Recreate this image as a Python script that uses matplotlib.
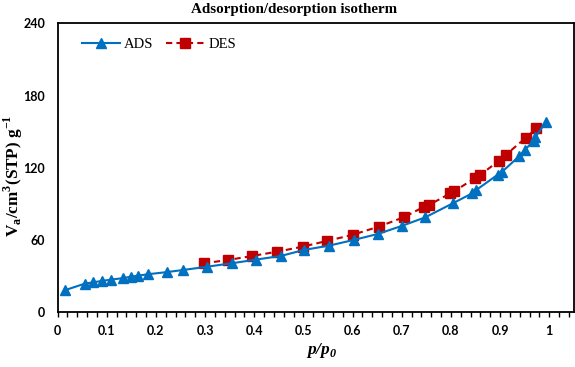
import matplotlib
matplotlib.use('Agg')
import matplotlib.pyplot as plt
from matplotlib.ticker import MultipleLocator

# adsorption branch (p/p0, V_a)
ads_x = [0.016, 0.055, 0.073, 0.090, 0.109, 0.134, 0.150, 0.164, 0.184, 0.223, 0.255,
         0.305, 0.354, 0.404, 0.454, 0.501, 0.552, 0.602, 0.651, 0.700, 0.748,
         0.805, 0.843, 0.852, 0.895, 0.904, 0.939, 0.950, 0.968, 0.972, 0.993]
ads_y = [18.0, 23.3, 24.5, 25.6, 26.7, 28.0, 29.2, 30.0, 31.2, 33.0, 34.7,
         37.5, 40.3, 43.4, 46.4, 51.4, 55.0, 59.7, 64.7, 71.4, 78.6,
         90.5, 98.5, 101.5, 114.0, 116.5, 129.5, 134.5, 142.3, 145.5, 158.0]

# desorption branch
des_x = [0.297, 0.346, 0.396, 0.447, 0.499, 0.549, 0.600, 0.653, 0.704, 0.746, 0.756,
         0.799, 0.807, 0.848, 0.860, 0.898, 0.912, 0.953, 0.974]
des_y = [40.3, 43.0, 46.4, 50.0, 54.2, 59.0, 64.0, 70.8, 78.6, 87.5, 89.0,
         98.6, 100.3, 111.0, 114.0, 125.8, 130.8, 145.0, 152.7]

x_ticks = [0, 0.1, 0.2, 0.3, 0.4, 0.5, 0.6, 0.7, 0.8, 0.9, 1]
x_tick_labels = ['0', '0.1', '0.2', '0.3', '0.4', '0.5', '0.6', '0.7', '0.8', '0.9', '1']
y_ticks = [0, 60, 120, 180, 240]

serif = ['Liberation Serif', 'DejaVu Serif']
tickfont = {'family': 'Lato', 'weight': 'bold', 'size': 9}

fig = plt.figure(figsize=(5.75, 3.67), dpi=100)
ax = fig.add_axes([0.1, 0.1507, 0.898, 0.7853])

ax.plot(ads_x, ads_y, color='#0070C0', lw=1.5, marker='^', ms=7.5,
        label='ADS', zorder=3)
ax.plot(des_x, des_y, color='#C00000', lw=1.5, ls=(0, (3, 2)), marker='s', ms=6.5,
        label='DES', zorder=2)

ax.set_xlim(0, 1.05)
ax.set_ylim(0, 240)
ax.set_xticks(x_ticks)
ax.set_xticklabels(x_tick_labels, fontdict=tickfont)
ax.xaxis.set_minor_locator(MultipleLocator(0.02))
ax.set_yticks(y_ticks)
ax.set_yticklabels([str(v) for v in y_ticks], fontdict=tickfont)
ax.tick_params(axis='x', which='both', direction='out', length=3.5, width=1, pad=6)
ax.tick_params(axis='y', which='both', length=0, pad=9)
for s in ax.spines.values():
    s.set_linewidth(1.3)

# axis labels placed as figure text to match the reference positions
fig.text(322 / 575, 1 - 350 / 367, 'p/p$_\\mathregular{0}$', ha='center', va='center',
         family=serif, style='italic', weight='bold', fontsize=12.5)

fig.text(13 / 575, 0.52, 'V$_\\mathregular{a}$/cm$^\\mathregular{3}$(STP) g$^\\mathregular{-1}$',
         rotation=90, ha='center', va='center', family=serif, weight='bold', fontsize=12.3)

fig.text(294 / 575, 1 - 10 / 367, 'Adsorption/desorption isotherm', ha='center', va='center',
         family=serif, weight='bold', fontsize=10.8)

ax.legend(loc='upper left', bbox_to_anchor=(0.047, 0.95), ncol=2, frameon=False,
          prop={'family': serif, 'size': 10.5}, handlelength=2.6, handletextpad=0.3,
          columnspacing=0.85, borderaxespad=0, borderpad=0)

fig.savefig('out.png', dpi=100)
